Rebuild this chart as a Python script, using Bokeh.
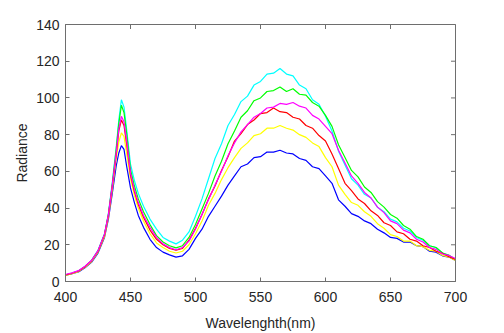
import math
from bokeh.plotting import figure
from bokeh.models import Range1d, FixedTicker
from bokeh.embed import file_html
from bokeh.resources import INLINE

# ---------------- data ----------------
wavelength = [400, 405, 410, 415, 420, 425, 430, 433, 436, 439, 441,
              443, 445, 447, 450, 453, 456] + list(range(460, 701, 5))

cyan_vals = [3.5, 4.6, 5.8, 8.2, 11.5, 17, 26, 37, 54, 73, 88,
             99, 95, 83, 64, 55, 48,
             41, 34, 28.5, 24, 22, 20.5, 22.5, 27, 35.5, 45,
             56, 67, 75, 85, 91, 98, 101, 107, 109, 113,
             113.5, 116, 113, 112, 107, 105, 99, 96.5, 90, 82,
             71, 63.5, 56, 52.5, 47.5, 45.5, 40.5, 38, 34, 32.5,
             29, 27.5, 24, 22.5, 19.5, 18.5, 15.5, 14.2, 12]

green_vals = [3.4, 4.5, 5.6, 8, 11.2, 16.5, 25.5, 36.5, 53, 72, 86,
              96, 92, 81, 61, 52, 45,
              38, 31, 25, 21.5, 19.5, 18.3, 19.5, 24, 31, 39.5,
              48, 57.5, 65.5, 75, 82, 89.5, 93, 98.5, 100, 103.5,
              104, 106, 103.5, 105, 102, 101.5, 97.5, 95.5, 90.5, 84.5,
              74.5, 67.5, 60.5, 57, 51.5, 48.5, 43.5, 40.5, 36.5, 34.5,
              30.5, 28.5, 24.5, 23, 19.5, 18.5, 15.5, 14.3, 12]

magenta_vals = [3.8, 4.7, 5.9, 8.3, 11.4, 16.8, 25.8, 36.5, 52.5, 70, 83,
                90, 87, 77, 59, 50, 43,
                36, 29.5, 24, 20.5, 18.5, 17.3, 18.5, 22, 28.5, 36.5,
                44.5, 52.5, 60, 68.5, 75.5, 81.5, 85.5, 89.5, 91.5, 94.5,
                95, 97, 96.5, 97.5, 95.5, 94.5, 90.5, 88.5, 84.5, 80.5,
                71.5, 64.5, 57.5, 53.5, 48.5, 45.5, 40.5, 37.5, 33, 31.5,
                28, 26.5, 23, 21.5, 18.5, 17.5, 15, 14.2, 12.5]

red_vals = [3.6, 4.5, 5.7, 8.1, 11.3, 16.5, 25.5, 36, 52, 69, 82,
            88, 85, 75, 58, 49, 42,
            35, 28, 23, 20, 18, 17, 18, 22.5, 29, 36.5,
            45, 52, 60.5, 68, 76.5, 80.5, 85.5, 88, 91.5, 92,
            94.5, 92.5, 92, 89.5, 88.5, 85, 83.5, 79.5, 76.5, 69.5,
            61.5, 53.5, 49.5, 45, 42.5, 38.5, 36, 32, 30.5, 27,
            26, 23, 22, 19.5, 18.5, 16.5, 15.3, 13.5, 12]

yellow_vals = [3.3, 4.3, 5.4, 7.8, 10.8, 16, 24.5, 35, 50, 67, 76,
               81, 79, 70, 56, 47, 40,
               33, 26, 21, 18.5, 16.5, 15.5, 16.5, 20, 26, 33,
               41.5, 48, 55.5, 62, 67.5, 72.5, 75.5, 79.5, 80.5, 83.5,
               83.5, 85, 83.5, 82.5, 80, 78.5, 75.5, 73.5, 67.5, 62.5,
               52.5, 47.5, 43, 41.5, 38, 35.5, 31.5, 29, 25.5, 24.5,
               22, 22, 19.5, 19, 17, 16.5, 14.2, 13.3, 11.5]

blue_vals = [3.5, 4.2, 5.2, 7.5, 10.4, 15.5, 24, 34, 48, 63, 70,
             74, 72, 63, 51, 43, 36,
             29.5, 23, 18.5, 16, 14.5, 13.3, 14, 17.5, 23.5, 28.5,
             35.5, 41, 46.5, 52.5, 57.5, 62.5, 64, 67.5, 68, 70.5,
             70.5, 71.5, 70, 69.5, 67, 66, 62.5, 61.5, 57.5, 53.5,
             44.5, 41, 37, 35.5, 33, 31.5, 28.5, 26.5, 24, 23.5,
             21.5, 21.5, 19.5, 19, 16.5, 16, 14, 13.3, 11.5]

x_ticks = [400, 450, 500, 550, 600, 650, 700]
y_ticks = [0, 20, 40, 60, 80, 100, 120, 140]

series = [
    (cyan_vals, "#00ffff"),
    (green_vals, "#00ff00"),
    (blue_vals, "#0000ff"),
    (yellow_vals, "#ffff00"),
    (red_vals, "#ff0000"),
    (magenta_vals, "#ff00ff"),
]

# ---------------- figure ----------------
FONT = "Liberation Sans"
TXT = "#262626"
AX = "#6e6e6e"

x_lo, x_hi = x_ticks[0], x_ticks[-1]
y_lo, y_hi = y_ticks[0], y_ticks[-1]

p = figure(width=504, height=333,
           x_range=Range1d(x_lo, x_hi), y_range=Range1d(y_lo, y_hi),
           output_backend="svg", toolbar_location=None,
           min_border_left=65, min_border_right=49,
           min_border_top=24, min_border_bottom=49)
p.background_fill_color = "white"
p.border_fill_color = "white"
p.outline_line_color = AX
p.outline_line_width = 1
p.grid.visible = False

for vals, col in series:
    p.line(wavelength, vals, line_color=col, line_width=1.2)

# inward ticks on the top and right edges of the box (clipped to the frame)
p.scatter(x_ticks, [y_hi] * len(x_ticks), marker="dash", size=9,
          angle=math.pi / 2, line_color=AX, line_width=1)
p.scatter([x_hi] * len(y_ticks), y_ticks, marker="dash", size=9,
          line_color=AX, line_width=1)


def style_axis(ax):
    ax.axis_line_color = AX
    ax.axis_line_width = 1
    ax.major_tick_line_color = AX
    ax.major_tick_in = 4
    ax.major_tick_out = 0
    ax.minor_tick_line_color = None
    ax.major_label_text_font = FONT
    ax.major_label_text_color = TXT
    ax.major_label_text_font_size = "14px"
    ax.axis_label_text_font = FONT
    ax.axis_label_text_font_size = "14px"
    ax.axis_label_text_font_style = "normal"
    ax.axis_label_text_color = TXT


xa = p.xaxis[0]
xa.ticker = FixedTicker(ticks=x_ticks)
style_axis(xa)
xa.major_label_standoff = 10
xa.axis_label = "Wavelenghth(nm)"
xa.axis_label_standoff = 10

ya = p.yaxis[0]
ya.ticker = FixedTicker(ticks=y_ticks)
style_axis(ya)
ya.major_label_standoff = 6
ya.axis_label = "Radiance"
ya.axis_label_standoff = 3

open("out.html", "w").write(file_html(p, INLINE))
